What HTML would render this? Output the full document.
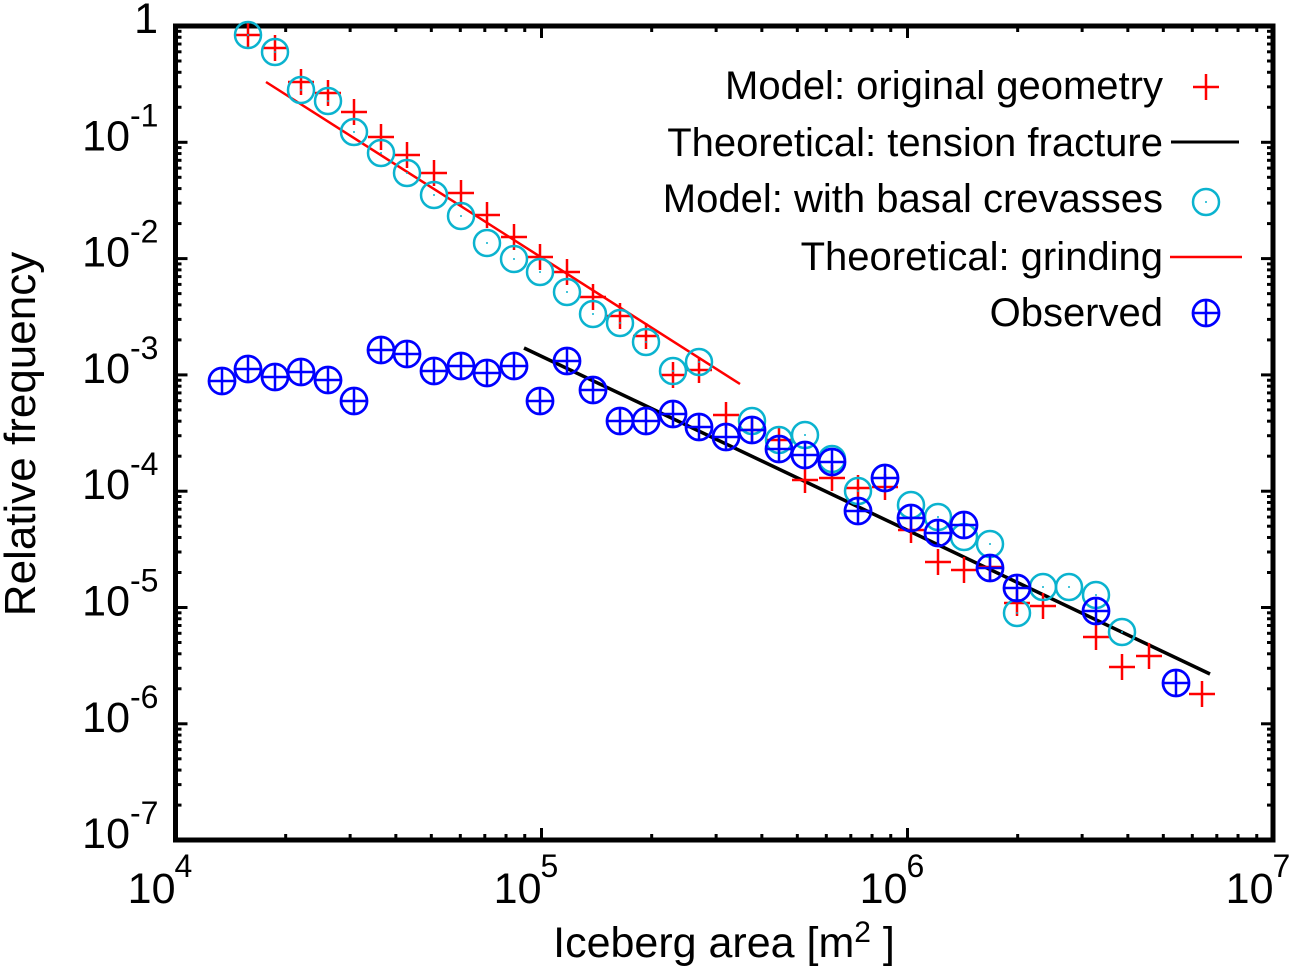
<!DOCTYPE html>
<html><head><meta charset="utf-8"><style>
body{margin:0;background:#fff}
svg text{font-family:"Liberation Sans",Arial,sans-serif}
</style></head><body>
<svg id="s" width="1291" height="967" xmlns="http://www.w3.org/2000/svg"></svg>
<script>
const s=document.getElementById('s');
let h='';
const X0=175.5,XD=366,Y0=26,YD=116.3,L=175.5,R=1273,T=26,B=840;
for(let d=0;d<3;d++)for(let m=1;m<10;m++){const x=X0+XD*(d+Math.log10(m));const len=m==1?12:6;
 h+=`<line x1="${x}" y1="${B}" x2="${x}" y2="${B-len}" stroke="#000" stroke-width="3"/><line x1="${x}" y1="${T}" x2="${x}" y2="${T+len}" stroke="#000" stroke-width="3"/>`;}
for(let d=0;d<7;d++)for(let m=1;m<10;m++){const y=Y0+YD*(d+1-Math.log10(m));const len=m==1?12:6;
 h+=`<line x1="${L}" y1="${y}" x2="${L+len}" y2="${y}" stroke="#000" stroke-width="3"/><line x1="${R}" y1="${y}" x2="${R-len}" y2="${y}" stroke="#000" stroke-width="3"/>`;}
h+=`<rect x="${L}" y="${T}" width="${R-L}" height="${B-T}" fill="none" stroke="#000" stroke-width="5"/>`;
h+=`<text x="158" y="33" font-size="43" text-anchor="end">1</text>`;
for(let d=1;d<=7;d++){const y=Y0+YD*d;
 h+=`<text x="130" y="${y+8}" font-size="43" text-anchor="end">10</text><text x="130" y="${y-16}" font-size="32">-${d}</text>`;}
for(let d=0;d<=3;d++){const x=X0+XD*d;
 h+=`<text x="${x}" y="903" font-size="43" text-anchor="end">10</text><text x="${x-1}" y="877" font-size="32">${d+4}</text>`;}
h+=`<text x="724" y="957" font-size="43" text-anchor="middle">Iceberg area [m<tspan font-size="30" dy="-15">2</tspan><tspan dy="15"> ]</tspan></text>`;
h+=`<text transform="translate(35,434) rotate(-90)" font-size="44" text-anchor="middle">Relative frequency</text>`;
h+=`<line x1="266" y1="82" x2="740" y2="384" stroke="#f00" stroke-width="2.5"/>`;
h+=`<line x1="524" y1="348" x2="1210" y2="674" stroke="#000" stroke-width="3.5"/>`;
const plus=(x,y,c)=>`<path d="M${x-13} ${y}H${x+13}M${x} ${y-13}V${y+13}" stroke="${c}" stroke-width="2.5"/>`;
const circ=(x,y)=>`<circle cx="${x}" cy="${y}" r="13" fill="none" stroke="#0bb3cf" stroke-width="2.5"/><circle cx="${x}" cy="${y}" r="1" fill="#0bb3cf"/>`;
const obs=(x,y)=>`<circle cx="${x}" cy="${y}" r="13" fill="none" stroke="#00f" stroke-width="2.8"/><path d="M${x-13} ${y}H${x+13}M${x} ${y-13}V${y+13}" stroke="#00f" stroke-width="2.5"/>`;
const red=[[248,35],[275,48],[301,82],[328,93],[354,112],[381,137],[407,155],[434,173],[461,193],[487,215],[514,237],[540,257],[567,272],[593,297],[620,316],[646,336],[673,375],[699,370],[726,415],[752,430],[779,440],[805,480],[832,478],[858,488],[885,487],[911,530],[938,562],[964,570],[990,567],[1017,603],[1043,606],[1096,637],[1122,667],[1149,656],[1202,694]];
const cy=[[248,35],[275,52],[301,90],[328,101],[354,132],[381,153],[407,173],[434,195],[461,216],[487,243],[514,259],[540,272],[567,292],[593,314],[620,323],[646,342],[673,371],[699,362],[752,421],[779,440],[805,435],[832,459],[858,491],[885,478],[911,505],[938,517],[964,537],[990,544],[1017,613],[1043,587],[1069,587],[1096,595],[1122,632]];
const bl=[[222,381],[248,369],[275,377],[301,372],[328,380],[354,401],[381,350],[407,354],[434,371],[461,366],[487,373],[514,366],[540,401],[567,361],[593,390],[620,421],[646,421],[673,414],[699,427],[726,437],[752,430],[779,449],[805,455],[832,462],[858,511],[885,478],[911,518],[938,533],[964,525],[990,568],[1017,588],[1096,611],[1176,683]];
red.forEach(p=>h+=plus(p[0],p[1],'#f00'));
cy.forEach(p=>h+=circ(p[0],p[1]));
bl.forEach(p=>h+=obs(p[0],p[1]));
const lg=[["Model: original geometry",85],["Theoretical: tension fracture",142],["Model: with basal crevasses",198],["Theoretical: grinding",256],["Observed",312]];
lg.forEach(l=>h+=`<text x="1163" y="${l[1]+14}" font-size="40" text-anchor="end">${l[0]}</text>`);
h+=plus(1206,87,'#f00');
h+=`<line x1="1171" y1="142" x2="1239" y2="142" stroke="#000" stroke-width="3"/>`;
h+=circ(1206,202);
h+=`<line x1="1170" y1="257" x2="1242" y2="257" stroke="#f00" stroke-width="2.5"/>`;
h+=obs(1206,313);
s.innerHTML=h;
</script>
</body></html>
